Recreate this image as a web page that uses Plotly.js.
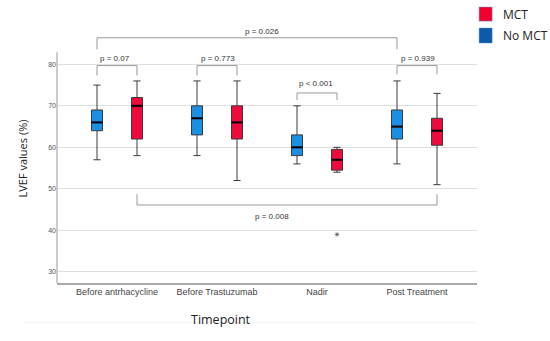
<!DOCTYPE html>
<html><head><meta charset="utf-8">
<script src="https://cdn.plot.ly/plotly-3.0.1.min.js"></script>
<style>html,body{margin:0;padding:0;background:#fff}#chart{width:550px;height:341px}</style>
</head><body><div id="chart"></div>
<script>
// Data
const categories = ["Before antrhacycline", "Before Trastuzumab", "Nadir", "Post Treatment"];
const groups = ["No MCT", "MCT"];
// No MCT (blue)
const noMctLower  = [57, 58, 56, 56];
const noMctQ1     = [64, 63, 58, 62];
const noMctMedian = [66, 67, 60, 65];
const noMctQ3     = [69, 70, 63, 69];
const noMctUpper  = [75, 76, 70, 76];
// MCT (red)
const mctLower  = [58, 52, 54, 51];
const mctQ1     = [62, 62, 54.5, 60.5];
const mctMedian = [70, 66, 57, 64];
const mctQ3     = [72, 70, 59.5, 67];
const mctUpper  = [76, 76, 60, 73];
// Outliers (MCT)
const outlierCategory = [2];
const outlierValue = [39];
const pLabels = ["p = 0.07", "p = 0.773", "p < 0.001", "p = 0.939", "p = 0.026", "p = 0.008"];
const yTicks = [30, 40, 50, 60, 70, 80];

const OFF = 0.2, BW = 0.11;
const blue = "#1a8fe4", red = "#ef0a3c";
const idx = categories.map((c,i)=>i);

function boxTrace(name, off, q1, med, q3, lo, hi, color){
  return {type:"box", name:name, x: idx.map(i=>i+off),
    q1:q1, median:med, q3:q3, lowerfence:lo, upperfence:hi,
    width:BW, whiskerwidth:0.65, fillcolor:color,
    line:{color:"#3a3a3a", width:1}, boxpoints:false, showlegend:false, hoverinfo:"skip"};
}
function medianTrace(off, med){
  const xs = [], ys = [];
  idx.forEach(i=>{ xs.push(i+off-BW/2, i+off+BW/2, null); ys.push(med[i], med[i], null); });
  return {type:"scatter", mode:"lines", x:xs, y:ys, line:{color:"#000", width:2}, showlegend:false, hoverinfo:"skip"};
}
const traces = [
  boxTrace("No MCT", -OFF, noMctQ1, noMctMedian, noMctQ3, noMctLower, noMctUpper, blue),
  boxTrace("MCT", OFF, mctQ1, mctMedian, mctQ3, mctLower, mctUpper, red),
  medianTrace(-OFF, noMctMedian),
  medianTrace(OFF, mctMedian),
  {type:"scatter", mode:"markers", x: outlierCategory.map(i=>i+OFF), y: outlierValue,
   marker:{symbol:"asterisk-open", size:3.5, color:"#555", line:{width:0.8,color:"#555"}}, showlegend:false, hoverinfo:"skip"}
];

const shapes = [], annotations = [];
const lc = {color:"#999", width:1};
function bracket(x0, x1, yTop, yLeg, label, yText, xText){
  shapes.push({type:"path", xref:"x", yref:"y", path:`M ${x0} ${yLeg} L ${x0} ${yTop} L ${x1} ${yTop} L ${x1} ${yLeg}`, line:lc});
  annotations.push({xref:"x", yref:"y", x:xText, y:yText, text:label, showarrow:false,
    font:{family:"Liberation Sans, Arial", size:8, color:"#333"}});
}
bracket(0-OFF, 0+OFF, 79.7, 77.3, pLabels[0], 81.5, 0-0.02);
bracket(1-OFF, 1+OFF, 79.7, 77.3, pLabels[1], 81.5, 1+0.01);
bracket(2-OFF, 2+OFF, 73.1, 71.4, pLabels[2], 75.3, 2-0.01);
bracket(3-OFF, 3+OFF, 79.7, 77.6, pLabels[3], 81.5, 3+0.01);
bracket(0-OFF, 3-OFF, 86.4, 83.6, pLabels[4], 88.0, 1.45);
bracket(0+OFF, 3+OFF, 46.1, 48.7, pLabels[5], 43.3, 1.55);

// left axis line
shapes.push({type:"line", xref:"paper", yref:"y", x0:0, x1:0, y0:27.3, y1:82.9, line:{color:"#aaa", width:1.2}});
// faint line below
shapes.push({type:"line", xref:"paper", yref:"paper", x0:-0.08, x1:1, y0:-0.155, y1:-0.155, line:{color:"#f3f3f3", width:1}});

// legend
const legItems = [["MCT", "#f2002f", 1.078, 1.023], ["No MCT", "#0b5aab", 0.996, 0.9375]];
legItems.forEach(([t,c,yT,yB])=>{
  shapes.push({type:"rect", xref:"paper", yref:"paper", x0:1.005, x1:1.036, y0:yB, y1:yT, fillcolor:c, line:{color:"#6a8fc0", width:0.5}});
  annotations.push({xref:"paper", yref:"paper", x:1.057, y:(yT+yB)/2, xanchor:"left", yanchor:"middle", text:t, showarrow:false,
    font:{family:"Open Sans, Noto Sans", size:12, color:"#222"}});
});
annotations.push({xref:"paper", yref:"paper", x:-0.105, y:0.488, text:"LVEF values (%)", textangle:-90, showarrow:false,
  font:{family:"Open Sans, Noto Sans", size:11, color:"#222"}});
annotations.push({xref:"paper", yref:"paper", x:0.39, y:-0.184, text:"Timepoint", showarrow:false,
  font:{family:"Open Sans, Noto Sans", size:12.5, color:"#222"}});

const layout = {
  width:550, height:341, margin:{l:57, r:73, t:27, b:58},
  paper_bgcolor:"#fff", plot_bgcolor:"#fff", showlegend:false,
  xaxis:{range:[-0.6, 3.6], tickvals:idx, ticktext:categories, showgrid:false, zeroline:false,
    showline:true, linecolor:"#aaa", linewidth:1.5, ticks:"", tickfont:{family:"Liberation Sans, Arial", size:9, color:"#444"}},
  yaxis:{range:[27.3, 89], tickvals:yTicks, showgrid:true, gridcolor:"#dedede", gridwidth:1, zeroline:false,
    showline:false, ticks:"", tickfont:{family:"Liberation Sans, Arial", size:7, color:"#555"}},
  shapes:shapes, annotations:annotations
};
Plotly.newPlot("chart", traces, layout, {staticPlot:true, displayModeBar:false});
</script></body></html>
